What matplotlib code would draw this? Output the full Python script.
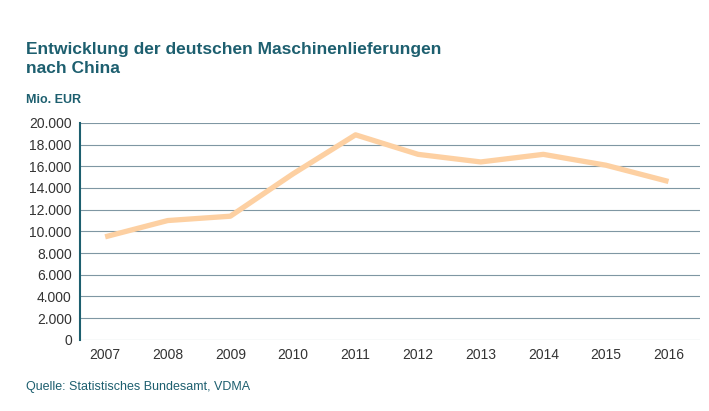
import matplotlib
matplotlib.use("Agg")
from matplotlib import pyplot as plt
from matplotlib.ticker import FuncFormatter

years = [2007, 2008, 2009, 2010, 2011, 2012, 2013, 2014, 2015, 2016]
values = [9500, 11000, 11400, 15300, 18900, 17100, 16400, 17100, 16100, 14600]

plt.rcParams['font.family'] = ['Liberation Sans', 'DejaVu Sans']
teal = "#1d5f6f"

fig = plt.figure(figsize=(7.09, 4.11), dpi=100)
ax = fig.add_axes([0.113, 0.173, 0.874, 0.528])

ax.plot(years, values, color="#fdd0a2", linewidth=3.8, solid_capstyle="butt")
ax.set_ylim(0, 20000)
ax.set_xlim(2006.6, 2016.5)
ax.set_yticks(range(0, 20001, 2000))
ax.set_xticks(years)
ax.yaxis.set_major_formatter(FuncFormatter(lambda v, p: "{:,.0f}".format(v).replace(",", ".")))
ax.grid(axis="y", color="#7f97a3", linewidth=0.8)
ax.set_axisbelow(True)
for s in ["top", "right", "bottom"]:
    ax.spines[s].set_visible(False)
ax.spines["left"].set_color(teal)
ax.spines["left"].set_linewidth(1.5)
ax.tick_params(length=0, labelsize=10, colors="#333333", pad=6)

fig.text(0.037, 0.815, "Entwicklung der deutschen Maschinenlieferungen\nnach China",
         color=teal, fontsize=12.5, fontweight="bold", va="bottom", linespacing=1.35)
fig.text(0.037, 0.757, "Mio. EUR", color=teal, fontsize=9, fontweight="bold", va="center")
fig.text(0.037, 0.058, "Quelle: Statistisches Bundesamt, VDMA", color=teal, fontsize=9, va="center")

fig.savefig("out.png", dpi=100)
